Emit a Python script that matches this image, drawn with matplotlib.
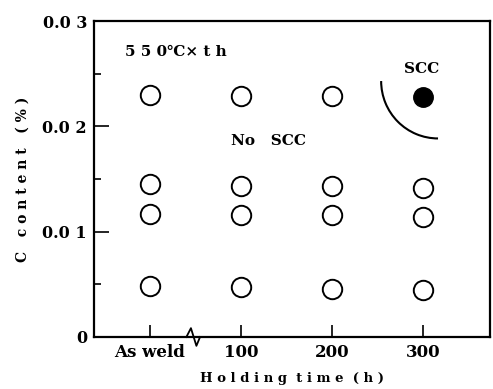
import numpy as np
import matplotlib.pyplot as plt
from matplotlib.patches import Arc
import matplotlib.transforms as mtransforms

plt.rcParams['font.family'] = ['DejaVu Serif']
plt.rcParams['font.weight'] = 'bold'

# data
x_pos = [0, 100, 200, 300]
x_labels = ['As weld', '100', '200', '300']
c_asweld = [0.0230, 0.0145, 0.0117, 0.0048]
c_100 = [0.0229, 0.0143, 0.0116, 0.0047]
c_200 = [0.0229, 0.0143, 0.0116, 0.0046]
c_300_open = [0.0141, 0.0114, 0.0045]
c_300_scc = [0.0228]

fig = plt.figure(figsize=(4.93, 3.89), dpi=100)
ax = fig.add_axes([0.1907, 0.1337, 0.8032, 0.8123])

ms = 14
for x, ys in zip([0, 100, 200], [c_asweld, c_100, c_200]):
    ax.plot([x] * len(ys), ys, 'o', ms=ms, mfc='white', mec='black', mew=1.4, ls='none')
ax.plot([300] * len(c_300_open), c_300_open, 'o', ms=ms, mfc='white', mec='black', mew=1.4, ls='none')
ax.plot([300] * len(c_300_scc), c_300_scc, 'o', ms=ms, mfc='black', mec='black', ls='none')

# SCC boundary
ax.add_patch(Arc((316.5, 0.0243), 125, 0.0109, theta1=180, theta2=270, lw=1.5, color='black'))

ax.text(-27, 0.0271, '5 5 0℃× t h', fontsize=11, fontweight='bold', va='center', ha='left')
ax.text(298, 0.0254, 'SCC', fontsize=11, fontweight='bold', va='center', ha='center')
ax.text(130, 0.0186, 'No   SCC', fontsize=11, fontweight='bold', va='center', ha='center')

ax.set_xlim(-61.5, 373.6)
ax.set_ylim(0, 0.03)
ax.set_xticks(x_pos)
ax.set_xticklabels(x_labels, fontsize=12, fontweight='bold')
ax.set_yticks([0, 0.01, 0.02, 0.03])
ax.set_yticklabels(['0', '0.0 1', '0.0 2', '0.0 3'], fontsize=11.5)
ax.set_yticks([0.005, 0.015, 0.025], minor=True)
ax.tick_params(axis='y', which='major', direction='in', length=11, width=1.2, pad=5)
ax.tick_params(axis='y', which='minor', direction='in', length=5, width=1.2)
ax.tick_params(axis='x', which='major', direction='in', length=9, width=1.2, pad=5)
for s in ax.spines.values():
    s.set_linewidth(1.6)

ax.set_xlabel('H o l d i n g  t i m e  ( h )', fontsize=9.5, fontweight='bold', labelpad=8)
ax.set_ylabel('C   c o n t e n t   ( % )', fontsize=10, fontweight='bold', labelpad=9)

# axis break mark
trans = mtransforms.blended_transform_factory(ax.transData, ax.transAxes)
ax.plot([43, 43], [-0.01, 0.01], color='white', lw=4, transform=trans, clip_on=False)
ax.plot([40, 45, 51, 55], [0, 0.028, -0.028, 0], color='black', lw=1.3,
        transform=trans, clip_on=False)

fig.savefig('out.png', dpi=100)
